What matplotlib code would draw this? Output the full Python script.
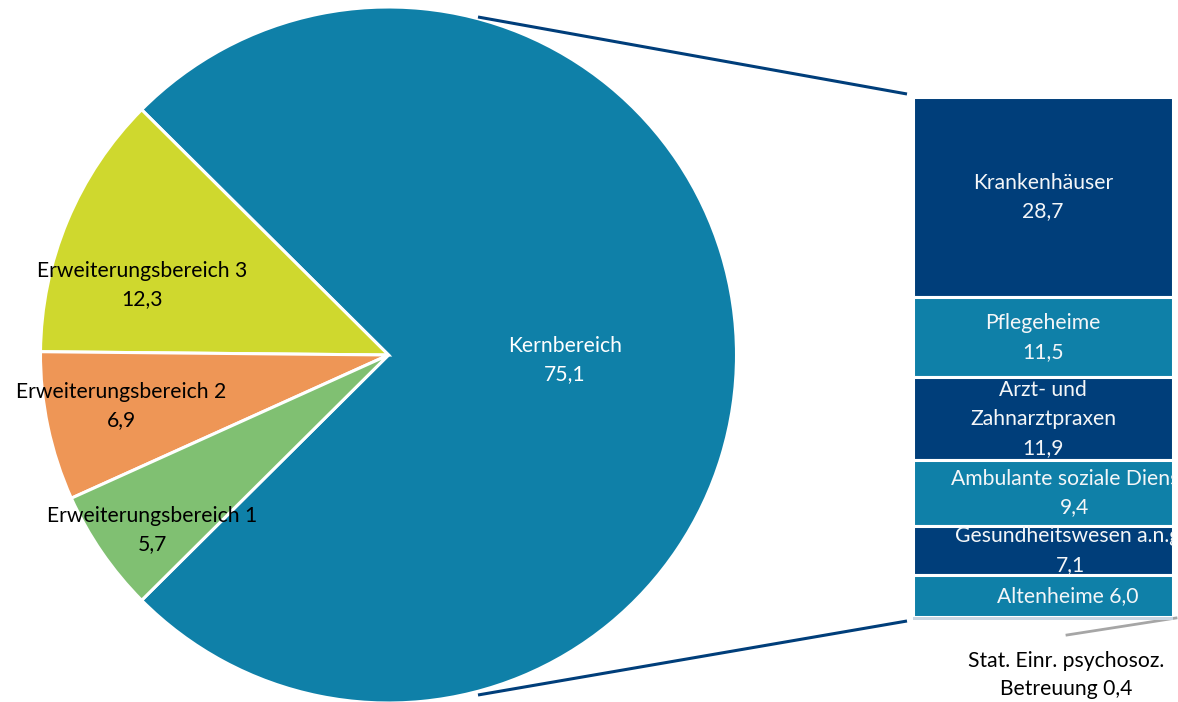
import matplotlib
matplotlib.use("Agg")
import matplotlib.pyplot as plt

plt.rcParams["font.family"] = ["Lato", "DejaVu Sans"]

# Pie: Anteile der Bereiche
pie_labels = ["Kernbereich", "Erweiterungsbereich 3", "Erweiterungsbereich 2", "Erweiterungsbereich 1"]
pie_values = [75.1, 12.3, 6.9, 5.7]
pie_colors = ["#0F80A8", "#CFD82E", "#EE9656", "#80C072"]

# Balken: Aufteilung des Kernbereichs
bar_labels = ["Krankenhäuser", "Pflegeheime", "Arzt- und\nZahnarztpraxen",
              "Ambulante soziale Dienste", "Gesundheitswesen a.n.g.",
              "Altenheime", "Stat. Einr. psychosoz.\nBetreuung"]
bar_values = [28.7, 11.5, 11.9, 9.4, 7.1, 6.0, 0.4]
bar_colors = ["#003E7A", "#0F80A8", "#003E7A", "#0F80A8", "#003E7A", "#0F80A8", "#C9D6E3"]


def fmt(v):
    return f"{v:.1f}".replace(".", ",")


W, H = 1178, 702
fig = plt.figure(figsize=(W / 100, H / 100), dpi=100)
ax = fig.add_axes([0, 0, 1, 1])

cx, cy, r = 388.5, H - 355, 348
start = -pie_values[0] * 3.6 / 2
ax.pie(pie_values, colors=pie_colors, startangle=start, center=(cx, cy), radius=r,
       counterclock=True, frame=True,
       wedgeprops=dict(edgecolor="white", linewidth=2.2))
ax.set_xlim(0, W)
ax.set_ylim(0, H)
ax.set_aspect("auto")
ax.set_axis_off()

fs = 15.2
ls = 1.55
# Beschriftungen im Kreis
pie_text_pos = [(565, 360), (142, 285), (121, 406), (152, 530)]
for lab, v, (x, y), c in zip(pie_labels, pie_values, pie_text_pos,
                              ["white", "black", "black", "black"]):
    ax.text(x, H - y, f"{lab}\n{fmt(v)}", ha="center", va="center", color=c,
            fontsize=fs, linespacing=ls)

# Verbindungslinien
ax.plot([478, 907], [H - 17, H - 94], color="#003E7A", lw=2.2, solid_capstyle="butt")
ax.plot([478, 907], [H - 695, H - 621], color="#003E7A", lw=2.2, solid_capstyle="butt")

# gestapelter Balken
bx0, bx1, by0, by1 = 913, 1173, 97, 620
bx = fig.add_axes([bx0 / W, (H - by1) / H, (bx1 - bx0) / W, (by1 - by0) / H])
total = sum(bar_values)
bx.set_xlim(0, 1)
bx.set_ylim(total, 0)
bx.set_axis_off()

label_dx = [0, 0, 0, 0.12, 0.105, 0.095]
bottom = 0
for i, (lab, v, c) in enumerate(zip(bar_labels, bar_values, bar_colors)):
    if i < len(bar_values) - 1:
        rect = bx.bar(0.5, v, width=1, bottom=bottom, color=c, edgecolor="white",
                      linewidth=2.2)[0]
        if i < 5:
            txt = f"{lab}\n{fmt(v)}"
        else:
            txt = f"{lab} {fmt(v)}"
        t = bx.text(0.5 + label_dx[i], bottom + v / 2, txt, ha="center", va="center",
                    color="#F4F6F8", fontsize=fs, linespacing=ls, clip_on=True)
        t.set_clip_path(rect)
    else:
        bx.bar(0.5, v, width=1, bottom=bottom, color=c, edgecolor="none")
    bottom += v

# kleinster Teil mit Führungslinie
ax.plot([1067, 1176], [H - 635, H - 618], color="#A6A6A6", lw=2)
ax.text(1066, H - 675, f"{bar_labels[-1]} {fmt(bar_values[-1])}", ha="center",
        va="center", fontsize=fs, linespacing=ls, color="black")

fig.savefig("out.png", dpi=100)
